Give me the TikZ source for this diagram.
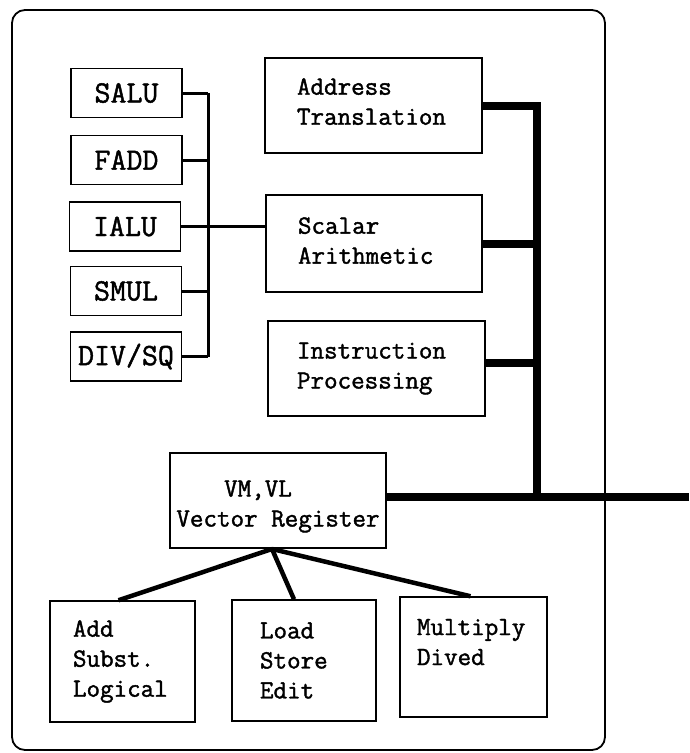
\documentclass[tikz,border=0pt]{standalone}
\usepackage{fontspec}
\newfontfamily\tw[RawFeature={embolden=1.5}]{Latin Modern Mono}
\begin{document}
\begin{tikzpicture}[x=1pt,y=-1pt,
  box/.style={draw, line width=1.5pt, inner sep=0pt, font=\tw\fontsize{26.3}{30}\selectfont},
  small/.style={draw, line width=1.5pt, inner sep=0pt, minimum width=111, minimum height=49, font=\tw\fontsize{31}{30}\selectfont},
  thinbus/.style={line width=3pt},
  thickbus/.style={line width=8pt},
  fanline/.style={line width=4.5pt}]
\useasboundingbox (0,0) rectangle (689,753);
\node[draw, line width=1.8pt, rounded corners=13, minimum width=593, minimum height=740, inner sep=0pt] (frame) at (308.5,380) {};
% small units
\node[small] (salu) at (126.5,93) {SALU};
\node[small] (fadd) at (126.5,160) {FADD};
\node[small] (ialu) at (125,226.5) {IALU};
\node[small] (smul) at (126,291) {SMUL};
\node[small] (div) at (126,356.5) {DIV/SQ};
% main boxes
\node[box, minimum width=217, minimum height=95, inner xsep=32pt, text width=153pt, align=left] (addr) at (373.5,105.5) {Address\\Translation\\[-22pt]\mbox{}};
\node[box, minimum width=216, minimum height=97, inner xsep=32pt, text width=152pt, align=left] (scalar) at (374,243.5) {Scalar\\Arithmetic\\[-24pt]\mbox{}};
\node[box, minimum width=217, minimum height=95, inner xsep=29pt, text width=159pt, align=left] (instr) at (376.5,368.5) {Instruction\\Processing\\[-24pt]\mbox{}};
\node[box, minimum width=216, minimum height=95, align=center] (vr) at (278,500.5) {VM,VL\hspace*{40pt}\\Vector Register\\[-36pt]\mbox{}};
\node[box, minimum width=145, minimum height=121, inner xsep=23pt, text width=99pt, align=left] (add) at (122.5,661.5) {Add\\Subst.\\Logical};
\node[box, minimum width=144, minimum height=121, inner xsep=28pt, text width=88pt, align=left] (load) at (304,660.5) {Load\\Store\\Edit};
\node[box, minimum width=147, minimum height=120, inner xsep=17pt, text width=113pt, align=left] (mult) at (473.5,657) {Multiply\\Dived\\\mbox{}};
% left bus
\coordinate (lbT) at (208,93);
\coordinate (lbB) at (208,356.5);
\draw[thinbus] (lbT) -- (lbB);
\foreach \n in {salu,fadd,smul,div} \draw[thinbus] (\n.east) -- (\n.east -| lbT);
\draw[thinbus] (ialu.east) -- (ialu.east -| scalar.west);
% right bus
\coordinate (rbT) at (537,105.5);
\coordinate (rbB) at (537,497);
\coordinate (out) at (689,497);
\draw[thickbus] (addr.east) -- (rbT) -- (rbB);
\draw[thickbus] (scalar.east) -- (scalar.east -| rbT);
\draw[thickbus] ([yshift=6pt]instr.east) -- ([yshift=6pt]instr.east -| rbT);
\draw[thickbus] (rbB -| vr.east) -- (out);
% fan
\coordinate (fan) at (272,549);
\draw[fanline] (fan) -- ([xshift=-4pt]add.north);
\draw[fanline] (fan) -- ([xshift=-10pt]load.north);
\draw[fanline] (fan) -- ([xshift=-3pt]mult.north);
\end{tikzpicture}
\end{document}
